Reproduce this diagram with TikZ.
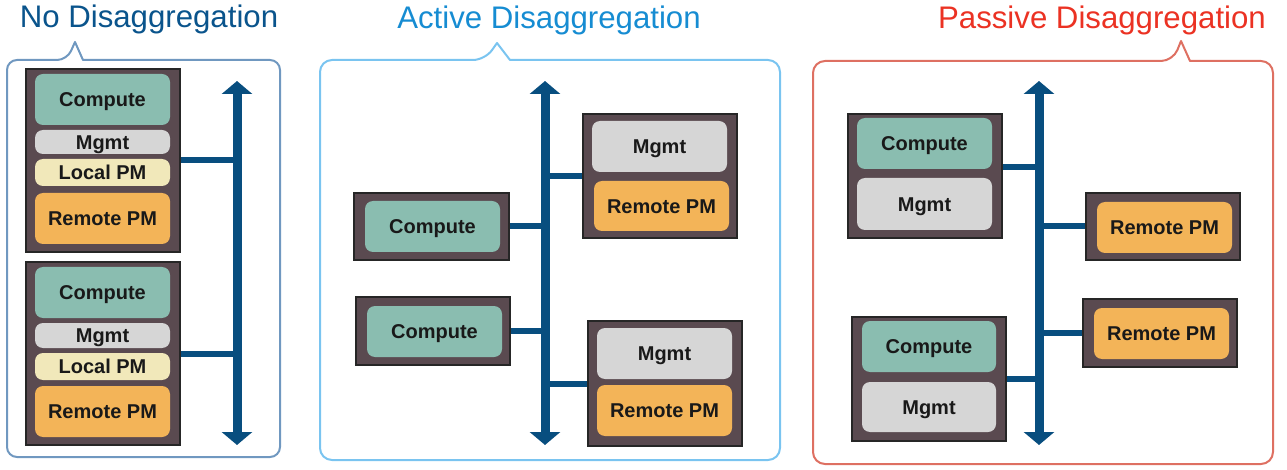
\documentclass[tikz,border=0pt]{standalone}
\usepackage{fontspec}
\setmainfont{Liberation Sans}
\usetikzlibrary{arrows.meta}
\definecolor{rackc}{RGB}{90,74,80}
\definecolor{computec}{RGB}{138,189,176}
\definecolor{mgmtc}{RGB}{214,214,214}
\definecolor{lpmc}{RGB}{241,232,186}
\definecolor{rpmc}{RGB}{243,180,88}
\definecolor{busc}{RGB}{8,78,127}
\definecolor{bordA}{RGB}{112,152,192}
\definecolor{bordB}{RGB}{122,196,240}
\definecolor{bordC}{RGB}{222,112,98}
\definecolor{titA}{RGB}{10,84,140}
\definecolor{titB}{RGB}{22,140,210}
\definecolor{titC}{RGB}{235,50,35}
\newcommand\bx[7]{\node[#2, minimum width={(#5-#3)*1pt}, minimum height={(#6-#4)*1pt}] (#1) at ({(#3+#5)/2},{(#4+#6)/2}) {#7};}
\begin{document}
\begin{tikzpicture}[x=1pt,y=-1pt,
  rack/.style={draw=black!85, line width=1.5pt, fill=rackc, inner sep=0pt},
  inner/.style={rounded corners=8pt, inner sep=0pt, text=black!90, text height=14.3pt, text depth=0pt, font=\fontsize{20}{21}\selectfont\bfseries},
  cmp/.style={inner, fill=computec},
  mgm/.style={inner, fill=mgmtc},
  lpm/.style={inner, fill=lpmc},
  rpm/.style={inner, fill=rpmc},
  bus/.style={draw=busc, line width=9pt, {Triangle[width=30pt,length=13pt]}-{Triangle[width=30pt,length=13pt]}},
  link/.style={draw=busc, line width=6pt},
  panel/.style={line width=2pt, line join=round},
  ttl/.style={inner sep=0pt, text height=22.3pt, text depth=0pt, font=\fontsize{31.2}{33}\selectfont},
]
\useasboundingbox (0,0) rectangle (1287,470);

% titles
\node[ttl, text=titA] (t1) at (149,16) {No Disaggregation};
\node[ttl, text=titB] (t2) at (549,17) {Active Disaggregation};
\node[ttl, text=titC] (t3) at (1102,17) {Passive Disaggregation};

% panel borders
\draw[panel, draw=bordA] (75,42) -- (83,60) {[rounded corners=10pt] -- (280,60) -- (280,457) -- (7,457) -- (7,60) -- (67,60)} -- cycle;
\draw[panel, draw=bordB] (497,43) -- (510,60) {[rounded corners=12pt] -- (780,60) -- (780,460) -- (320,460) -- (320,60) -- (485,60)} -- cycle;
\draw[panel, draw=bordC] (1181,41) -- (1190,61) {[rounded corners=12pt] -- (1273,61) -- (1273,464) -- (813,464) -- (813,61) -- (1173,61)} -- cycle;

% ---------- Panel 1 ----------
\coordinate (b1t) at (237,81);
\coordinate (b1b) at (237,445);
\bx{ra}{rack}{26}{69}{180}{252}{}
\bx{rb}{rack}{26}{262}{180}{445}{}
\draw[link] (ra.east) -- (ra.east -| b1t);
\draw[link] (rb.east) -- (rb.east -| b1t);
\draw[bus] (b1t) -- (b1b);
\bx{ra1}{cmp}{35}{74}{170}{125}{Compute}
\bx{ra2}{mgm}{35}{130}{170}{154}{Mgmt}
\bx{ra3}{lpm}{35}{159}{170}{186}{Local PM}
\bx{ra4}{rpm}{35}{193}{170}{244}{Remote PM}
\bx{rb1}{cmp}{35}{267}{170}{318}{Compute}
\bx{rb2}{mgm}{35}{323}{170}{348}{Mgmt}
\bx{rb3}{lpm}{35}{353}{170}{380}{Local PM}
\bx{rb4}{rpm}{35}{386}{170}{437}{Remote PM}

% ---------- Panel 2 ----------
\coordinate (b2t) at (545,81);
\coordinate (b2b) at (545,445);
\bx{rc}{rack}{583}{114}{737}{238}{}
\bx{rd}{rack}{354}{193}{509}{260}{}
\bx{re}{rack}{356}{297}{510}{365}{}
\bx{rf}{rack}{588}{321}{742}{446}{}
\draw[link] (rc.west) -- (rc.west -| b2t);
\draw[link] (rd.east) -- (rd.east -| b2t);
\draw[link] (re.east) -- (re.east -| b2t);
\draw[link] (rf.west) -- (rf.west -| b2t);
\draw[bus] (b2t) -- (b2b);
\bx{rc1}{mgm}{592}{121}{727}{172}{Mgmt}
\bx{rc2}{rpm}{594}{181}{729}{231}{Remote PM}
\bx{rd1}{cmp}{365}{201}{500}{252}{Compute}
\bx{re1}{cmp}{367}{306}{502}{357}{Compute}
\bx{rf1}{mgm}{597}{328}{732}{379}{Mgmt}
\bx{rf2}{rpm}{597}{385}{732}{436}{Remote PM}

% ---------- Panel 3 ----------
\coordinate (b3t) at (1039,81);
\coordinate (b3b) at (1039,445);
\bx{rg}{rack}{848}{114}{1002}{238}{}
\bx{rh}{rack}{852}{317}{1006}{441}{}
\bx{ri}{rack}{1086}{193}{1240}{260}{}
\bx{rj}{rack}{1083}{299}{1237}{367}{}
\draw[link] ([yshift=9pt]rg.east) -- ([yshift=9pt]rg.east -| b3t);
\draw[link] (rh.east) -- ([xshift=4pt]rh.east -| b3t);
\draw[link] (ri.west) -- (ri.west -| b3t);
\draw[link] (rj.west) -- (rj.west -| b3t);
\draw[bus] (b3t) -- (b3b);
\bx{rg1}{cmp}{857}{118}{992}{169}{Compute}
\bx{rg2}{mgm}{857}{178}{992}{230}{Mgmt}
\bx{rh1}{cmp}{862}{321}{996}{372}{Compute}
\bx{rh2}{mgm}{862}{382}{996}{432}{Mgmt}
\bx{ri1}{rpm}{1097}{202}{1232}{253}{Remote PM}
\bx{rj1}{rpm}{1094}{308}{1229}{359}{Remote PM}
\end{tikzpicture}
\end{document}
